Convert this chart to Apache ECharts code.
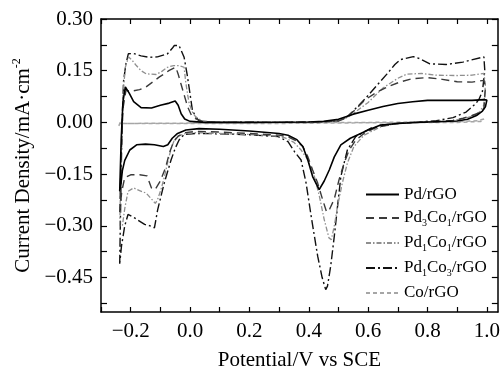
<!DOCTYPE html>
<html><head><meta charset="utf-8">
<script src="https://cdn.jsdelivr.net/npm/echarts@6/dist/echarts.min.js"></script>
<style>html,body{margin:0;padding:0;background:#fff}#c{width:503px;height:376px}</style>
</head><body><div id="c"></div>
<script>
// ---- data (potential V vs SCE, current density mA/cm2), loop order: anodic then cathodic ----
const seriesNames = ['Pd/rGO', 'Pd3Co1/rGO', 'Pd1Co1/rGO', 'Pd1Co3/rGO', 'Co/rGO'];

const pdRGO = [
  [-0.237,-0.20],[-0.232,-0.05],[-0.226,0.06],[-0.218,0.103],[-0.205,0.085],[-0.19,0.06],[-0.165,0.043],[-0.13,0.042],[-0.1,0.05],[-0.07,0.056],[-0.05,0.062],[-0.04,0.05],[-0.03,0.025],[-0.018,0.01],[0.0,0.003],[0.05,0.0],[0.2,0.0],[0.4,0.001],[0.45,0.003],[0.5,0.009],[0.55,0.024],[0.6,0.035],[0.65,0.046],[0.7,0.055],[0.75,0.06],[0.8,0.064],[0.85,0.064],[0.9,0.064],[0.95,0.064],[0.99,0.066],
  [1.0,0.065],[0.995,0.045],[0.985,0.033],[0.965,0.02],[0.935,0.009],[0.9,0.004],[0.8,0.001],[0.7,-0.003],[0.64,-0.008],[0.6,-0.022],[0.575,-0.032],[0.54,-0.046],[0.508,-0.065],[0.486,-0.1],[0.469,-0.138],[0.452,-0.17],[0.435,-0.195],[0.413,-0.157],[0.397,-0.11],[0.38,-0.07],[0.36,-0.05],[0.33,-0.037],[0.3,-0.032],[0.2,-0.025],[0.1,-0.02],[0.03,-0.018],[-0.014,-0.022],[-0.042,-0.032],[-0.06,-0.046],[-0.075,-0.065],[-0.09,-0.07],[-0.12,-0.065],[-0.15,-0.063],[-0.18,-0.065],[-0.203,-0.08],[-0.22,-0.11],[-0.228,-0.14],[-0.233,-0.18],[-0.237,-0.2]
];

const pd3co1 = [
  [-0.237,-0.26],[-0.232,-0.1],[-0.226,0.04],[-0.216,0.093],[-0.2,0.09],[-0.17,0.095],[-0.148,0.103],[-0.125,0.118],[-0.103,0.132],[-0.085,0.142],[-0.07,0.151],[-0.048,0.16],[-0.04,0.14],[-0.03,0.11],[-0.02,0.08],[-0.008,0.045],[0.005,0.02],[0.02,0.01],[0.04,0.003],[0.1,0.0],[0.3,0.0],[0.45,0.002],[0.5,0.004],[0.53,0.015],[0.56,0.04],[0.59,0.066],[0.63,0.088],[0.67,0.105],[0.71,0.118],[0.75,0.127],[0.8,0.13],[0.85,0.125],[0.9,0.118],[0.95,0.117],[0.99,0.122],
  [0.995,0.1],[0.99,0.04],[0.975,0.028],[0.95,0.02],[0.92,0.012],[0.886,0.006],[0.83,0.002],[0.75,0.0],[0.7,-0.003],[0.66,-0.008],[0.62,-0.017],[0.586,-0.032],[0.558,-0.052],[0.536,-0.08],[0.519,-0.118],[0.502,-0.166],[0.486,-0.222],[0.47,-0.252],[0.46,-0.26],[0.447,-0.225],[0.43,-0.176],[0.413,-0.138],[0.397,-0.1],[0.38,-0.07],[0.36,-0.054],[0.33,-0.042],[0.3,-0.037],[0.2,-0.032],[0.1,-0.028],[0.02,-0.026],[-0.02,-0.03],[-0.04,-0.04],[-0.055,-0.055],[-0.07,-0.09],[-0.082,-0.13],[-0.1,-0.17],[-0.118,-0.195],[-0.13,-0.19],[-0.145,-0.155],[-0.17,-0.152],[-0.2,-0.152],[-0.22,-0.16],[-0.23,-0.2],[-0.237,-0.26]
];

const pd1co1 = [
  [-0.237,-0.3],[-0.232,-0.1],[-0.226,0.08],[-0.218,0.16],[-0.207,0.19],[-0.195,0.18],[-0.181,0.165],[-0.165,0.15],[-0.148,0.141],[-0.114,0.139],[-0.095,0.148],[-0.076,0.16],[-0.055,0.165],[-0.037,0.165],[-0.02,0.16],[-0.015,0.12],[-0.008,0.08],[-0.003,0.055],[0.008,0.03],[0.019,0.016],[0.04,0.005],[0.08,0.001],[0.3,0.0],[0.45,0.002],[0.5,0.005],[0.53,0.014],[0.56,0.032],[0.6,0.058],[0.65,0.1],[0.7,0.128],[0.73,0.14],[0.78,0.142],[0.83,0.137],[0.9,0.136],[0.95,0.137],[0.99,0.142],
  [0.995,0.11],[0.99,0.05],[0.975,0.03],[0.95,0.018],[0.92,0.01],[0.88,0.005],[0.83,0.002],[0.75,0.0],[0.697,-0.003],[0.641,-0.013],[0.586,-0.037],[0.552,-0.07],[0.53,-0.118],[0.513,-0.176],[0.497,-0.243],[0.486,-0.3],[0.476,-0.34],[0.468,-0.335],[0.452,-0.282],[0.436,-0.215],[0.419,-0.157],[0.397,-0.109],[0.374,-0.08],[0.35,-0.058],[0.32,-0.045],[0.3,-0.04],[0.2,-0.035],[0.1,-0.032],[0.02,-0.03],[-0.02,-0.033],[-0.04,-0.04],[-0.053,-0.051],[-0.065,-0.08],[-0.076,-0.118],[-0.087,-0.16],[-0.098,-0.195],[-0.11,-0.225],[-0.117,-0.235],[-0.13,-0.222],[-0.148,-0.205],[-0.17,-0.198],[-0.19,-0.19],[-0.209,-0.2],[-0.22,-0.25],[-0.228,-0.3],[-0.237,-0.3]
];

const pd1co3 = [
  [-0.237,-0.41],[-0.233,-0.2],[-0.229,0.0],[-0.224,0.12],[-0.216,0.17],[-0.208,0.199],[-0.19,0.2],[-0.165,0.193],[-0.137,0.189],[-0.11,0.19],[-0.076,0.199],[-0.06,0.215],[-0.053,0.223],[-0.037,0.223],[-0.02,0.189],[-0.01,0.14],[-0.003,0.1],[0.008,0.035],[0.02,0.015],[0.03,0.005],[0.06,0.001],[0.3,0.0],[0.45,0.002],[0.5,0.005],[0.524,0.012],[0.547,0.031],[0.569,0.05],[0.6,0.078],[0.63,0.108],[0.663,0.14],[0.69,0.168],[0.708,0.182],[0.752,0.191],[0.774,0.185],[0.808,0.17],[0.863,0.168],[0.919,0.175],[0.99,0.19],
  [0.993,0.15],[0.985,0.09],[0.975,0.07],[0.963,0.055],[0.93,0.03],[0.886,0.014],[0.83,0.005],[0.75,0.0],[0.697,-0.003],[0.608,-0.017],[0.558,-0.041],[0.53,-0.08],[0.508,-0.157],[0.497,-0.243],[0.486,-0.33],[0.474,-0.416],[0.463,-0.475],[0.457,-0.485],[0.445,-0.45],[0.43,-0.388],[0.408,-0.272],[0.391,-0.176],[0.374,-0.109],[0.352,-0.085],[0.33,-0.056],[0.297,-0.041],[0.2,-0.036],[0.1,-0.033],[0.02,-0.032],[-0.02,-0.035],[-0.037,-0.051],[-0.05,-0.075],[-0.064,-0.109],[-0.087,-0.176],[-0.109,-0.253],[-0.12,-0.306],[-0.135,-0.3],[-0.153,-0.296],[-0.187,-0.277],[-0.209,-0.267],[-0.22,-0.3],[-0.231,-0.359],[-0.237,-0.41]
];

const coRGO = [
  [-0.24,-0.01],[-0.235,0.0],[-0.22,-0.003],[0.0,-0.002],[0.3,-0.001],[0.6,0.0],[0.9,0.002],[0.97,0.005],[0.99,0.01],
  [0.98,0.003],[0.9,0.0],[0.6,-0.001],[0.3,-0.003],[0.0,-0.003],[-0.24,-0.003]
];

const xTickValues = [-0.3,-0.2,-0.1,0,0.1,0.2,0.3,0.4,0.5,0.6,0.7,0.8,0.9,1.0];
const xLabelValues = [-0.2,0,0.2,0.4,0.6,0.8,1.0];
const yTickValues = [-0.525,-0.45,-0.375,-0.30,-0.225,-0.15,-0.075,0,0.075,0.15,0.225,0.30];
const yLabelValues = [-0.45,-0.30,-0.15,0,0.15,0.30];

// ---- chart ----
const FONT = 'Liberation Serif';
const fmt = (v, d) => (v < -1e-9 ? '\u2212' : '') + Math.abs(v).toFixed(d);
const legendRich = {
  n: { fontFamily: FONT, fontSize: 17, color: '#000', lineHeight: 20 },
  s: { fontFamily: FONT, fontSize: 10, color: '#000', lineHeight: 10, verticalAlign: 'bottom' }
};
const legendFmt = {
  'Pd/rGO': '{n|Pd/rGO}',
  'Pd3Co1/rGO': '{n|Pd}{s|3}{n|Co}{s|1}{n|/rGO}',
  'Pd1Co1/rGO': '{n|Pd}{s|1}{n|Co}{s|1}{n|/rGO}',
  'Pd1Co3/rGO': '{n|Pd}{s|1}{n|Co}{s|3}{n|/rGO}',
  'Co/rGO': '{n|Co/rGO}'
};
const styles = [
  { color: '#000000', width: 1.6, type: 'solid' },
  { color: '#3a3a3a', width: 1.4, type: [8, 5] },
  { color: '#8f8f8f', width: 1.3, type: [5, 2, 1.5, 2] },
  { color: '#111111', width: 1.4, type: [9, 3, 2, 3] },
  { color: '#a6a6a6', width: 1.5, type: [4, 3] }
];
const datasets = [pdRGO, pd3co1, pd1co1, pd1co3, coRGO];

const axisLine = { show: true, onZero: false, lineStyle: { color: '#000', width: 1.5 } };
const baseX = {
  type: 'value', min: -0.3, max: 1.037,
  axisLine: axisLine, splitLine: { show: false },
  axisTick: { show: true, inside: true, length: 5, lineStyle: { color: '#000', width: 1.2 }, customValues: xTickValues }
};
const baseY = {
  type: 'value', min: -0.55, max: 0.30,
  axisLine: axisLine, splitLine: { show: false },
  axisTick: { show: true, inside: true, length: 6, lineStyle: { color: '#000', width: 1.2 }, customValues: yTickValues }
};

const chart = echarts.init(document.getElementById('c'), null, { renderer: 'canvas' });
chart.setOption({
  animation: false,
  backgroundColor: '#fff',
  grid: { left: 101, top: 19, width: 401, height: 295, containLabel: false },
  legend: {
    data: seriesNames,
    orient: 'vertical',
    left: 365, top: 186, padding: 0,
    itemWidth: 33, itemHeight: 14, itemGap: 6.5,
    formatter: n => legendFmt[n],
    textStyle: { rich: legendRich, fontFamily: FONT, fontSize: 17 },
    itemStyle: { opacity: 0, borderWidth: 0 }
  },
  xAxis: [
    Object.assign({}, baseX, {
      position: 'bottom',
      axisLabel: { show: true, customValues: xLabelValues, formatter: v => fmt(v, 1), fontFamily: FONT, fontSize: 21, color: '#000', margin: 9 },
      name: 'Potential/V vs SCE', nameLocation: 'middle', nameGap: 38,
      nameTextStyle: { fontFamily: FONT, fontSize: 21, color: '#000' }
    }),
    Object.assign({}, baseX, { position: 'top', axisLabel: { show: false } })
  ],
  yAxis: [
    Object.assign({}, baseY, {
      position: 'left',
      axisLabel: { show: true, customValues: yLabelValues, formatter: v => fmt(v, 2), fontFamily: FONT, fontSize: 21, color: '#000', margin: 8 },
      name: '{m|Current Density/mA\u00b7cm}{p|-2}', nameLocation: 'middle', nameGap: 58, nameRotate: 90,
      nameTextStyle: {
        fontFamily: FONT, fontSize: 21, color: '#000',
        rich: {
          m: { fontFamily: FONT, fontSize: 21, color: '#000', lineHeight: 24 },
          p: { fontFamily: FONT, fontSize: 12, color: '#000', lineHeight: 12, verticalAlign: 'top' }
        }
      }
    }),
    Object.assign({}, baseY, { position: 'right', axisLabel: { show: false } })
  ],
  series: datasets.map((d, i) => ({
    name: seriesNames[i],
    type: 'line',
    xAxisIndex: 0, yAxisIndex: 0,
    data: d,
    showSymbol: false, symbol: 'none',
    smooth: false,
    lineStyle: styles[i],
    itemStyle: { color: styles[i].color },
    z: 5 - i
  }))
});
</script></body></html>
